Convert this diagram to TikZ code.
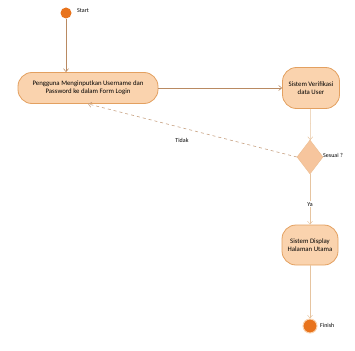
\documentclass[tikz,border=0pt]{standalone}
\usepackage{fontspec}
\setmainfont{Carlito}
\usetikzlibrary{shapes.geometric,arrows.meta}
\definecolor{actfill}{HTML}{FAD3AE}
\definecolor{actline}{HTML}{E3A060}
\definecolor{dotfill}{HTML}{E8731C}
\definecolor{flow}{HTML}{B98A62}
\definecolor{flowpale}{HTML}{E6C4A0}
\tikzset{
  activity/.style={draw=actline, fill=actfill, line width=0.8pt, rounded corners=14pt,
    align=center, font=\fontsize{6.8}{8}\selectfont, inner sep=2pt},
  decision/.style={diamond, draw=actline!70, fill=actfill!60!dotfill!70, aspect=0.8,
    minimum width=26pt, minimum height=34pt, inner sep=0pt},
  startdot/.style={circle, fill=dotfill, minimum size=11pt, inner sep=0pt},
  enddot/.style={circle, fill=dotfill, draw=actfill, line width=1pt, minimum size=14pt, inner sep=0pt},
  flowline/.style={draw=flow, line width=0.6pt, -{Straight Barb[length=3pt,width=5pt]}},
  paleline/.style={draw=flowpale, line width=0.5pt, -{Straight Barb[length=3pt,width=5pt]}},
  backline/.style={draw=flow!80, line width=0.6pt, dashed, -{Straight Barb[length=3pt,width=5pt]}},
  lbl/.style={font=\fontsize{6}{7}\selectfont, inner sep=1pt}
}
\begin{document}
\begin{tikzpicture}[x=1pt,y=-1pt]
\path[use as bounding box] (0,0) rectangle (355,350);

% nodes of the activity flow
\node[startdot] (start) at (66,13) {};
\node[lbl, anchor=west] (startlbl) at (76,11) {Start};

\node[activity, minimum width=140pt, minimum height=31pt] (input) at (88,88)
  {Pengguna Menginputkan Username dan\\Password ke dalam Form Login};

\node[activity, minimum width=57pt, minimum height=41pt] (verify) at (311,88)
  {Sistem Verifikasi\\data User};

\node[decision] (check) at (310,157) {};
\node[lbl, anchor=west] (checklbl) at (322,155) {Sesuai ?};

\node[activity, minimum width=56pt, minimum height=40pt] (home) at (310,245)
  {Sistem Display\\Halaman Utama};

\node[enddot] (finish) at (310,326) {};
\node[lbl, anchor=west] (finishlbl) at (319,325) {Finish};

% transitions
\draw[flowline] (start) -- (start |- input.north);
\draw[flowline] (input) -- (verify);
\draw[paleline] (verify) -- (check);
\draw[backline] (check.west) -- node[lbl, pos=0.55, below=9pt] (no) {Tidak} (input.south);
\draw[paleline] (check) -- node[lbl, pos=0.6, fill=white] (yes) {Ya} (home);
\draw[paleline] (home) -- (finish);
\end{tikzpicture}
\end{document}
